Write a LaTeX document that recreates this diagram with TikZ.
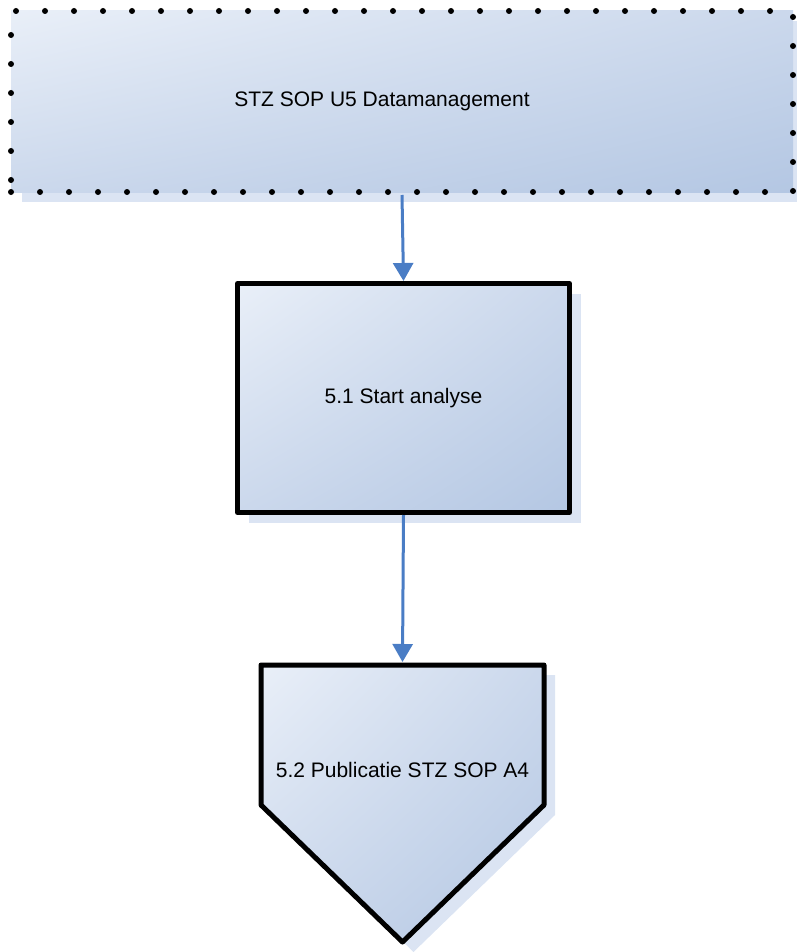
\documentclass[tikz,border=0pt]{standalone}
\usepackage{fontspec}
\setmainfont{Liberation Sans}
\usepackage{xcolor}
\definecolor{boxlight}{RGB}{233,239,248}
\definecolor{boxmid}{RGB}{203,216,236}
\definecolor{boxdark}{RGB}{180,199,227}
\definecolor{shadowblue}{RGB}{219,228,243}
\definecolor{flowblue}{RGB}{74,125,197}
\usepackage{tikz}
\usetikzlibrary{arrows.meta,positioning,shadows,shadings}

\begin{document}
\begin{tikzpicture}[x=1pt,y=-1pt,
    lbl/.style={font=\fontsize{21}{25}\selectfont,inner sep=0pt},
    grad/.style={upper left=boxlight,upper right=boxmid,lower left=boxmid,lower right=boxdark},
    dropshade/.style={drop shadow={shadow xshift=11pt,shadow yshift=-10pt,fill=shadowblue,opacity=1}},
    sopbox/.style={grad,dropshade,draw=black,line width=6pt,line cap=round,
        dash pattern=on 0pt off 29pt,minimum width=782pt,minimum height=181pt,inner sep=0pt},
    procbox/.style={grad,dropshade,draw=black,line width=5pt,line join=round,
        minimum width=332pt,minimum height=229pt,inner sep=0pt,
        font=\fontsize{21}{25}\selectfont},
    flow/.style={draw=flowblue,line width=3pt,-{Triangle[width=20pt,length=18pt]}}]
  \useasboundingbox (0,0) rectangle (796,952);
  \def\lx{261} \def\ux{544} \def\px{402.5}
  \def\ty{665} \def\sy{805} \def\by{942}
  % source procedure
  \node[sopbox] (sop) at (402,101.5) {};
  \node[lbl,xshift=-20pt] (soplbl) at (sop.center) {STZ SOP U5 Datamanagement};
  % step 5.1
  \node[procbox] (start) at (403.5,398) {5.1 Start analyse};
  % step 5.2, off-page shape
  \shadedraw[grad,dropshade,draw=black,line width=5pt,line join=round]
    (\lx,\ty) -- (\ux,\ty) -- (\ux,\sy) -- (\px,\by) -- (\lx,\sy) -- cycle;
  \coordinate (pubtop) at (\px,662);
  \node[lbl] (pub) at (\px,770) {5.2 Publicatie STZ SOP A4};
  % connectors
  \draw[flow] (sop.south) -- (start.north);
  \draw[flow] (start.south) -- (pubtop);
\end{tikzpicture}
\end{document}
